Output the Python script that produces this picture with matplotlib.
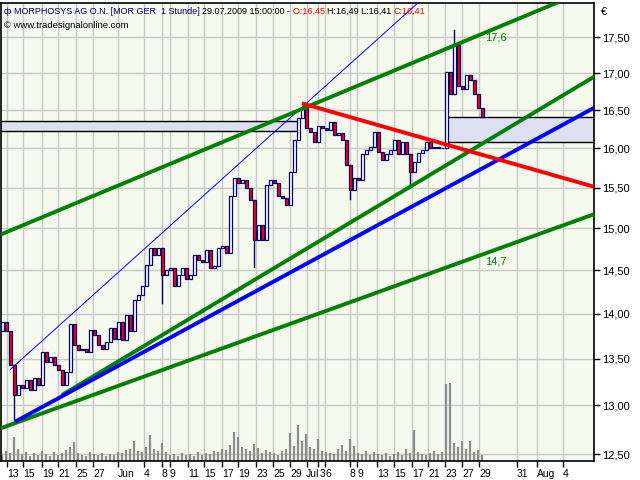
import numpy as np
import matplotlib
matplotlib.use("Agg")
import matplotlib.pyplot as plt
from matplotlib.patches import Rectangle
from matplotlib.ticker import FixedLocator, NullLocator
from matplotlib.transforms import ScaledTranslation

plt.rcParams["font.family"] = ["Liberation Sans", "DejaVu Sans"]

# closing prices, one candle per 4 trading hours (hour 2, 6, 10, ...)
closes = [
    13.91, 13.80, 13.43, 13.11, 13.22, 13.18, 13.27, 13.16, 13.29, 13.22,
    13.57, 13.46, 13.52, 13.43, 13.38, 13.22, 13.36, 13.88, 13.65, 13.59,
    13.61, 13.57, 13.82, 13.76, 13.65, 13.61, 13.68, 13.84, 13.72, 13.91,
    13.70, 13.99, 13.80, 14.15, 14.21, 14.32, 14.56, 14.76, 14.68, 14.76,
    14.44, 14.50, 14.52, 14.32, 14.44, 14.52, 14.40, 14.44, 14.68, 14.62,
    14.60, 14.74, 14.52, 14.55, 14.76, 14.79, 14.70, 15.40, 15.62, 15.56,
    15.59, 15.49, 15.34, 14.86, 15.04, 14.86, 15.53, 15.59, 15.56, 15.40,
    15.37, 15.28, 15.69, 16.11, 16.40, 16.53, 16.26, 16.21, 16.08, 16.29,
    16.26, 16.24, 16.34, 16.17, 16.20, 16.11, 15.79, 15.47, 15.62, 15.59,
    15.92, 15.98, 16.02, 16.21, 15.95, 15.85, 15.92, 15.98, 16.11, 15.92,
    16.08, 15.92, 15.69, 15.82, 15.94, 15.98, 16.08, 16.00, 16.02, 16.00,
    16.00, 17.01, 16.72, 17.39, 16.83, 16.79, 16.97, 16.90, 16.72, 16.53,
    16.41,
]
first_open = 13.80

# volume (thousand shares) per candle
volume = [
    6, 10, 8, 24, 12, 7, 9, 5, 8, 6, 10, 7, 5, 9, 6, 8, 11, 14, 19, 8,
    6, 5, 9, 7, 6, 8, 5, 7, 6, 9, 8, 11, 12, 20, 10, 9, 14, 26, 12, 10,
    18, 9, 6, 7, 5, 8, 6, 7, 5, 9, 6, 8, 7, 10, 9, 12, 11, 16, 29, 24,
    14, 12, 10, 17, 13, 8, 11, 9, 8, 6, 10, 12, 28, 15, 36, 20, 27, 14, 12, 22,
    10, 9, 8, 7, 12, 16, 10, 22, 15, 8, 7, 10, 6, 9, 7, 6, 8, 5, 7, 9,
    6, 12, 8, 31, 9, 7, 6, 8, 10, 7, 9, 77, 78, 18, 14, 20, 12, 20, 9, 11,
    6,
]
vol_full_scale = 458

# long wicks: (candle index, extreme price)
wick_idx = [3, 40, 63, 87, 102, 113]
wick_price = [12.85, 14.12, 14.54, 15.36, 15.55, 17.60]

# trend lines: (hour, price) start and end
green_upper = [(0, 14.92), (594, 18.22)]
green_mid = [(62, 13.11), (594, 16.95)]
green_low = [(0, 12.76), (594, 15.17)]
blue_thick = [(15, 12.83), (594, 16.53)]
blue_thin = [(10, 13.38), (430, 18.15)]
red_line = [(302, 16.59), (594, 15.51)]

# support zones: hour from, hour to, price low, price high
zone_old = (0, 298, 16.22, 16.36)
zone_new = (446, 594, 16.08, 16.41)

# channel labels
labels = [("17,6", 485, 17.49), ("14,7", 485, 14.60)]

y_ticks = [12.5, 13.0, 13.5, 14.0, 14.5, 15.0, 15.5, 16.0, 16.5, 17.0, 17.5]
x_tick_pos = [7, 23, 42, 58, 76, 93, 118, 144, 162, 170, 188, 204, 222, 238,
              256, 273, 290, 307, 318, 325, 350, 357, 377, 394, 412, 428,
              445, 462, 479, 517, 537, 563]
x_tick_labels = ["13", "15", "19", "21", "25", "27", "Jun", "4", "8", "9",
                 "11", "15", "17", "19", "23", "25", "29", "Jul", "3", "6",
                 "8", "9", "13", "15", "17", "21", "23", "27", "29", "31",
                 "Aug", "4"]

NAVY = "#000066"
GREEN = "#008000"

fig = plt.figure(figsize=(6.4, 4.8), dpi=100)
ax = fig.add_axes([1 / 640, 19 / 480, 593 / 640, 458 / 480])
ax.set_facecolor("#f6f9ee")
ax.set_yscale("log")
ax.set_xlim(1, 594)
ax.set_ylim(12.43, 17.99)

# grid
for p in y_ticks:
    ax.axhline(p, color="#c8c8c8", lw=1, zorder=0)
for xp in x_tick_pos:
    ax.axvline(xp, color="#c8c8c8", lw=1, zorder=0)

n = len(closes)
bar_x = np.arange(n) * 4 + 2
opens = [first_open] + closes[:-1]

# volume at the bottom
ax.vlines(bar_x, 0, np.array(volume) / vol_full_scale, transform=ax.get_xaxis_transform(),
          colors="#8c8c8c", lw=1.6, zorder=1)

# zones
for h0, h1, lo, hi in (zone_old, zone_new):
    ax.add_patch(Rectangle((h0, lo), h1 - h0, hi - lo, facecolor="#dde0f0",
                           edgecolor="black", lw=1, zorder=2))

# wicks
for i, p in zip(wick_idx, wick_price):
    ax.plot([bar_x[i], bar_x[i]], [min(opens[i], closes[i], p), max(opens[i], closes[i], p)],
            color=NAVY, lw=1, zorder=3)

# candles
for xx, o, c in zip(bar_x, opens, closes):
    lo, hi = min(o, c), max(o, c)
    face = "white" if c >= o else "#ff0000"
    ax.bar(xx, hi - lo, bottom=lo, width=3.0, color=face, edgecolor=NAVY, lw=0.9, zorder=4)

# trend lines
def draw_line(pts, color, lw):
    ax.plot([pts[0][0], pts[1][0]], [pts[0][1], pts[1][1]], color=color, lw=lw,
            zorder=5, solid_capstyle="butt")

draw_line(blue_thin, "#0000ff", 0.7)
draw_line(green_upper, GREEN, 2.8)
draw_line(green_mid, GREEN, 2.8)
draw_line(green_low, GREEN, 2.8)
draw_line(blue_thick, "#0000ff", 2.8)
draw_line(red_line, "#ff0000", 2.8)

for txt, hx, py in labels:
    ax.text(hx, py, txt, color=GREEN, fontsize=8, va="center", zorder=6)

# axes styling
for s in ax.spines.values():
    s.set_color("black")
    s.set_linewidth(1.2)
ax.yaxis.tick_right()
ax.yaxis.set_major_locator(FixedLocator(y_ticks))
ax.yaxis.set_minor_locator(NullLocator())
ax.set_yticklabels([f"{v:.2f}".replace(".", ",") for v in y_ticks])
ax.tick_params(axis="y", direction="out", length=4, width=1, labelsize=8, pad=2)
ax.set_xticks(x_tick_pos)
ax.set_xticklabels(x_tick_labels)
ax.xaxis.set_minor_locator(NullLocator())
ax.tick_params(axis="x", direction="out", length=4, width=1, labelsize=7.5, pad=2)
shift_left = ScaledTranslation(-0.01, 0, fig.dpi_scale_trans)
shift_right = ScaledTranslation(0.02, 0, fig.dpi_scale_trans)
for lab in ax.get_xticklabels():
    lab.set_horizontalalignment("left")
    if lab.get_text() == "Jul":
        lab.set_transform(lab.get_transform() + shift_left)
    elif lab.get_text() == "3":
        lab.set_transform(lab.get_transform() + shift_right)

fig.text(601 / 640, 1 - 12 / 480, "€", fontsize=8, va="center")

# header line with coloured parts
fig.canvas.draw()
renderer = fig.canvas.get_renderer()
header = [("ф ", NAVY), ("MORPHOSYS AG O.N. [MOR GER  1 Stunde] ", NAVY),
          ("29.07.2009 15:00:00 - ", "black"), ("O:16,45 ", "#ff0000"),
          ("H:16,49 L:16,41 ", "black"), ("C:16,41", "#ff0000")]
xpos = 4 / 640
for s, col in header:
    t = fig.text(xpos, 1 - 11 / 480, s, color=col, fontsize=6.5, va="center")
    xpos += t.get_window_extent(renderer).width / 640
fig.text(4 / 640, 1 - 26 / 480, "© www.tradesignalonline.com", color="black",
         fontsize=6.8, va="center")

fig.savefig("out.png", dpi=100, facecolor="white")
